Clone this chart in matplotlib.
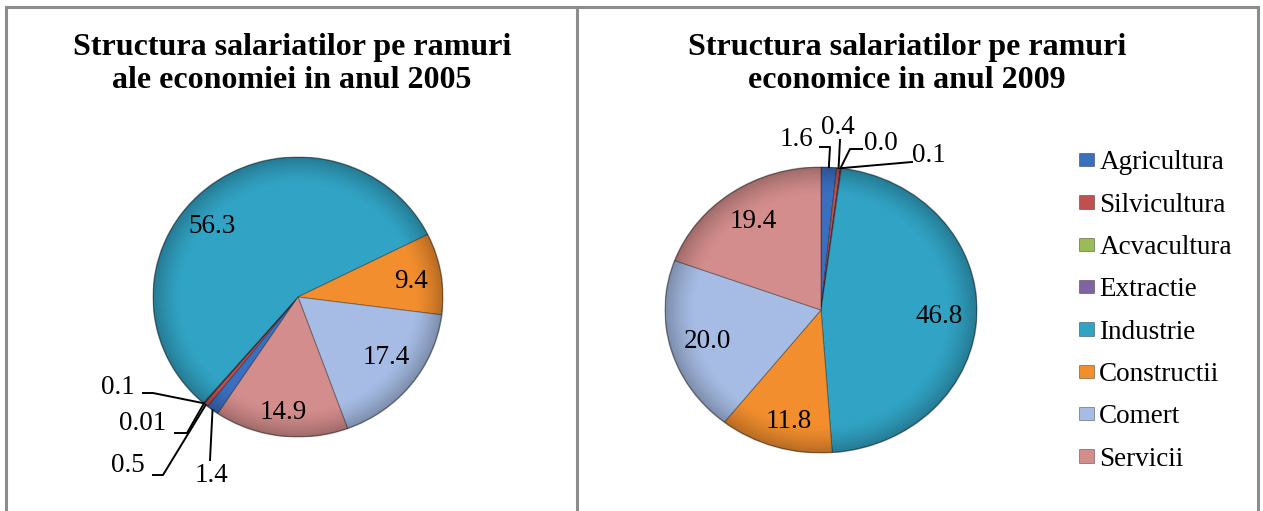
import matplotlib
matplotlib.use('Agg')
import matplotlib.pyplot as plt
from matplotlib.lines import Line2D
from matplotlib.patches import Ellipse
import numpy as np

plt.rcParams['font.family'] = ['Liberation Serif', 'DejaVu Serif']

# ---------------- data ----------------
categories = ['Agricultura', 'Silvicultura', 'Acvacultura', 'Extractie',
              'Industrie', 'Constructii', 'Comert', 'Servicii']
values_2005 = [1.4, 0.5, 0.01, 0.1, 56.3, 9.4, 17.4, 14.9]
labels_2005 = ['1.4', '0.5', '0.01', '0.1', '56.3', '9.4', '17.4', '14.9']
values_2009 = [1.6, 0.4, 0.0, 0.1, 46.8, 11.8, 20.0, 19.4]
labels_2009 = ['1.6', '0.4', '0.0', '0.1', '46.8', '11.8', '20.0', '19.4']
title_2005 = ['Structura salariatilor pe ramuri', 'ale economiei in anul 2005']
title_2009 = ['Structura salariatilor pe ramuri', 'economice in anul 2009']

# ---------------- style ----------------
colors = ['#3a6fc0', '#c0504d', '#9bbb59', '#8064a2',
          '#31a3c4', '#f28e2e', '#a6bce4', '#d38d8c']
W, H = 1263, 511
fig = plt.figure(figsize=(W / 100, H / 100), dpi=100)
fig.patch.set_facecolor('white')

LBL_FS = 19.5
TITLE_FS = 23


def make_pie(cx, cy, rx, ry, values, startangle):
    ax = fig.add_axes([(cx - rx) / W, 1 - (cy + ry) / H, 2 * rx / W, 2 * ry / H])
    wedges, _ = ax.pie(values, colors=colors, startangle=startangle,
                       counterclock=False, radius=1.0,
                       wedgeprops=dict(edgecolor=(0, 0, 0, 0.35), linewidth=0.7))
    # soft darkening towards the rim (bevel look)
    g = np.linspace(-1, 1, 400)
    X, Y = np.meshgrid(g, g)
    Rr = np.sqrt(X ** 2 + Y ** 2)
    alpha = np.clip((Rr - 0.80) / 0.20, 0, 1) ** 1.5 * 0.25
    rgba = np.zeros((400, 400, 4))
    rgba[..., 3] = alpha
    im = ax.imshow(rgba, extent=(-1, 1, -1, 1), origin='lower', zorder=3,
                   interpolation='bilinear')
    clip = Ellipse((0, 0), 2, 2, transform=ax.transData)
    im.set_clip_path(clip)
    ax.add_patch(Ellipse((0, 0), 2, 2, fill=False, edgecolor='#00000035',
                         lw=1.2, zorder=4))
    ax.set_xlim(-1, 1)
    ax.set_ylim(-1, 1)
    ax.set_aspect('auto')
    ax.axis('off')
    return ax, wedges


def mid_point(w, r, dang=0.0):
    a = np.deg2rad((w.theta1 + w.theta2) / 2 + dang)
    return r * np.cos(a), r * np.sin(a)


def px2data(px, py, cx, cy, rx, ry):
    return (px - cx) / rx, (cy - py) / ry


def add_labels(ax, wedges, labels, inner, small, geom):
    for i, (r, da) in inner.items():
        x, y = mid_point(wedges[i], r, da)
        ax.text(x, y, labels[i], ha='center', va='center', fontsize=LBL_FS,
                zorder=5)
    for i, (tpos, pts) in small.items():
        fig.text(tpos[0] / W, 1 - tpos[1] / H, labels[i], ha='center',
                 va='center', fontsize=LBL_FS)
        xs, ys = zip(*[px2data(p[0], p[1], *geom) for p in pts])
        ex, ey = mid_point(wedges[i], 1.0)
        ax.add_line(Line2D(list(xs) + [ex], list(ys) + [ey], color='black',
                           lw=1.4, clip_on=False, zorder=6))


# ---------- left pie (2005) ----------
L = (298, 297, 145, 140)
axL, wL = make_pie(*L, values_2005, 236.4)
inner_L = {4: (0.78, 11.7), 5: (0.787, -1.3), 6: (0.743, 3.4), 7: (0.83, -0.4)}
small_L = {
    3: ((118, 387), [(143, 393), (153, 393)]),
    2: ((143, 424), [(175, 433), (187, 433)]),
    1: ((128, 465), [(153, 475), (163, 475)]),
    0: ((211, 475), [(210, 460)]),
}
add_labels(axL, wL, labels_2005, inner_L, small_L, L)

# ---------- right pie (2009) ----------
R = (821, 310, 156, 143)
axR, wR = make_pie(*R, values_2009, 90)
inner_R = {4: (0.758, -1.9), 5: (0.81, 2.3), 6: (0.76, 1.2), 7: (0.755, 0.4)}
small_R = {
    0: ((796, 140), [(820, 147), (830, 147)]),
    1: ((838, 127), [(840, 140)]),
    2: ((881, 143), [(862, 149), (850, 149)]),
    3: ((929, 156), [(912, 162)]),
}
add_labels(axR, wR, labels_2009, inner_R, small_R, R)

# ---------- titles ----------
for xc, lines in [(292, title_2005), (907, title_2009)]:
    for yb, s in zip([55, 88], lines):
        fig.text(xc / W, 1 - yb / H, s, ha='center', va='baseline',
                 fontsize=TITLE_FS, fontweight='bold')

# ---------- legend ----------
fig.legend(wR, categories, loc='center left',
           bbox_to_anchor=(1079 / W, 1 - 311 / H), frameon=False,
           fontsize=LBL_FS, handlelength=0.55, handleheight=0.38,
           handletextpad=0.2, labelspacing=0.64, borderpad=0, borderaxespad=0)

# ---------- frame ----------
gray = '#8c8c8c'
for (x0, y0, x1, y1) in [(6, 7, 1258, 7), (6, 7, 6, 511), (1258, 7, 1258, 511),
                         (577, 7, 577, 511)]:
    fig.add_artist(Line2D([x0 / W, x1 / W], [1 - y0 / H, 1 - y1 / H],
                          transform=fig.transFigure, color=gray, lw=2.2))

fig.savefig('out.png', dpi=100)
